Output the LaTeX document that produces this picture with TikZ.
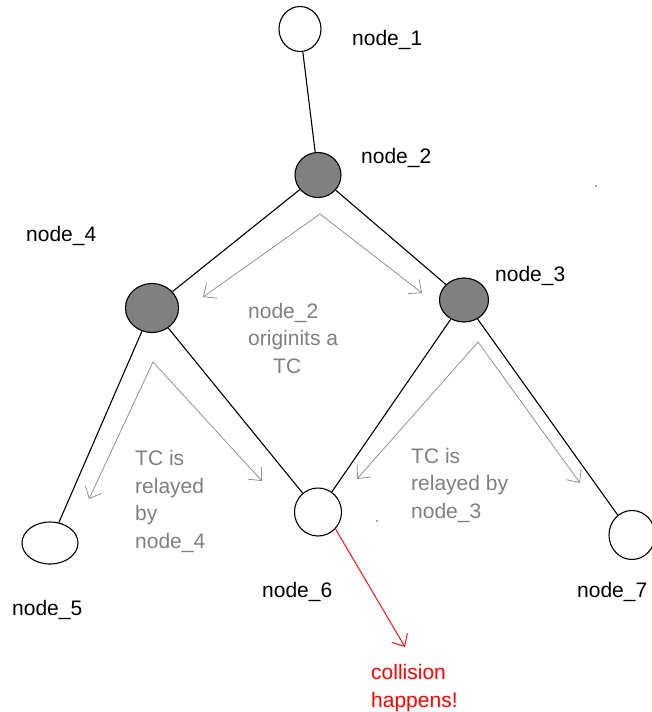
\documentclass[tikz,border=0pt]{standalone}
\usepackage{fontspec}
\setmainfont{Liberation Sans}
\usetikzlibrary{shapes.geometric,arrows.meta}
\begin{document}
\begin{tikzpicture}[x=1pt,y=-1pt,
  nd/.style={ellipse,draw=black,line width=1.1pt,inner sep=0pt},
  wnd/.style={nd,fill=white},
  gnd/.style={nd,fill=gray},
  edge/.style={draw=black,line width=1.1pt},
  lbl/.style={anchor=base west,inner sep=0pt,font=\fontsize{21}{27.5}\selectfont},
  glbl/.style={lbl,text=gray,align=left},
  garrow/.style={draw=gray!85,line width=0.8pt,{Straight Barb[length=10pt,width=18pt]}-{Straight Barb[length=10pt,width=18pt]}},
  rarrow/.style={draw=red,line width=0.9pt,-{Straight Barb[length=10pt,width=18pt]}}
]
\useasboundingbox (0,0) rectangle (652,712);
\fill[white] (0,0) rectangle (652,712);

% nodes
\node[wnd,minimum width=42pt,minimum height=45pt] (n1) at (300,29) {};
\node[gnd,minimum width=46pt,minimum height=45pt] (n2) at (318,175) {};
\node[gnd,minimum width=53pt,minimum height=49pt] (n4) at (152,308) {};
\node[gnd,minimum width=49pt,minimum height=44pt] (n3) at (464,300) {};
\node[wnd,minimum width=56pt,minimum height=42pt] (n5) at (50,543) {};
\node[wnd,minimum width=47pt,minimum height=48pt] (n6) at (318,512) {};
\node[wnd,minimum width=46pt,minimum height=49pt] (n7) at (632,535) {};

% edges
\draw[edge] (n1) -- (n2);
\draw[edge] (n2) -- (n4);
\draw[edge] (n2) -- (n3);
\draw[edge] (n4) -- (n5);
\draw[edge] (n4) -- (n6);
\draw[edge] (n3) -- (n6);
\draw[edge] (n3) -- (n7);

% labels
\node[lbl] (t1) at (352,45) {node\_1};
\node[lbl] (t2) at (361,163) {node\_2};
\node[lbl] (t3) at (495,281) {node\_3};
\node[lbl] (t4) at (26,241) {node\_4};
\node[lbl] (t5) at (12,615) {node\_5};
\node[lbl] (t6) at (262,597) {node\_6};
\node[lbl] (t7) at (577,597) {node\_7};

% gray transmission arrows
\coordinate (a2) at (320,214);
\coordinate (l2) at (203,297);
\coordinate (r2) at (422,293);
\coordinate (a4) at (153,362);
\coordinate (l4) at (89,499);
\coordinate (r4) at (262,481);
\coordinate (a3) at (478,342);
\coordinate (l3) at (357,479);
\coordinate (r3) at (580,483);
\draw[garrow] (l2) -- (a2) -- (r2);
\draw[garrow] (l4) -- (a4) -- (r4);
\draw[garrow] (l3) -- (a3) -- (r3);

% gray texts (base anchor = last line)
\node[glbl] (g2) at (248,373) {node\_2\\originits a\\\hspace*{25pt}TC};
\node[glbl] (g4) at (135,548) {TC is\\relayed\\by\\node\_4};
\node[glbl] (g3) at (411,518) {TC is\\relayed by\\node\_3};

% collision
\coordinate (ct) at (405,647);
\draw[rarrow] (n6.-44) -- (ct);
\node[lbl,text=red,align=left] (col) at (371,707) {collision\\happens!};

% stray dots
\fill[black!70] (596,186) circle (0.9pt);
\fill[black!70] (377,521) circle (0.9pt);
\end{tikzpicture}
\end{document}
